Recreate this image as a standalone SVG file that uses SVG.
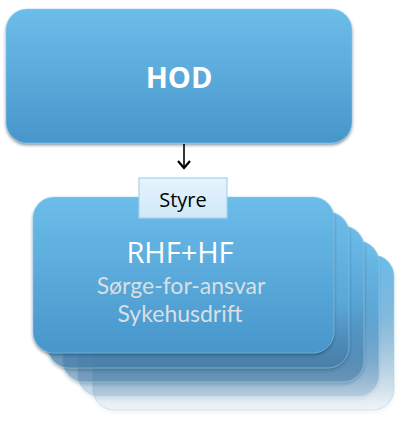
<svg xmlns="http://www.w3.org/2000/svg" width="400" height="424" viewBox="0 0 400 424">
<defs>
<style>
.box{stroke:#8fd0f3;stroke-width:0.8;stroke-opacity:0.6}
.lbl{font-family:"Open Sans","Liberation Sans",sans-serif;text-anchor:middle}
.sub{font-family:Lato,"Open Sans",sans-serif;text-anchor:middle;font-size:23px;fill:#d9dfe4}
</style>
<linearGradient id="gBlue" x1="0" y1="0" x2="0" y2="1">
<stop offset="0" stop-color="#6cbdea"/>
<stop offset="1" stop-color="#4896cb"/>
</linearGradient>
<linearGradient id="gB2" x1="0" y1="0" x2="0" y2="1">
<stop offset="0" stop-color="#6cbdea"/>
<stop offset="0.6" stop-color="#5aa6d6"/>
<stop offset="1" stop-color="#4a82b0" stop-opacity="0.6"/>
</linearGradient>
<linearGradient id="gB3" x1="0" y1="0" x2="0" y2="1">
<stop offset="0" stop-color="#6cbdea"/>
<stop offset="0.5" stop-color="#5aa6d6" stop-opacity="0.9"/>
<stop offset="1" stop-color="#4a82b0" stop-opacity="0.4"/>
</linearGradient>
<linearGradient id="gB4" x1="0" y1="0" x2="0" y2="1">
<stop offset="0" stop-color="#6cbdea"/>
<stop offset="0.45" stop-color="#5aa6d6" stop-opacity="0.8"/>
<stop offset="1" stop-color="#4a82b0" stop-opacity="0.22"/>
</linearGradient>
<linearGradient id="gB5" x1="0" y1="0" x2="0" y2="1">
<stop offset="0" stop-color="#6cbdea"/>
<stop offset="0.4" stop-color="#5aa6d6" stop-opacity="0.7"/>
<stop offset="1" stop-color="#4a82b0" stop-opacity="0.06"/>
</linearGradient>
<linearGradient id="gStyre" x1="0" y1="0" x2="0" y2="1">
<stop offset="0" stop-color="#e6f4fd"/>
<stop offset="1" stop-color="#cfe8f8"/>
</linearGradient>
<filter id="sh" x="-10%" y="-10%" width="125%" height="130%">
<feDropShadow dx="0" dy="2" stdDeviation="1.6" flood-color="#1d3c55" flood-opacity="0.55"/>
</filter>
<filter id="shl" x="-10%" y="-10%" width="125%" height="130%">
<feDropShadow dx="0" dy="2" stdDeviation="1.6" flood-color="#1d3c55" flood-opacity="0.2"/>
</filter>
<marker id="arr" viewBox="0 0 12 14" refX="10" refY="7" markerWidth="12" markerHeight="14" markerUnits="userSpaceOnUse" orient="auto">
<path d="M3,1 L10,7 L3,13" fill="none" stroke="#000" stroke-width="2.2"/>
</marker>
</defs>
<rect width="400" height="424" fill="#fff"/>

<g id="hod">
<rect class="box" x="6" y="9" width="346" height="134" rx="21" fill="url(#gBlue)" filter="url(#sh)"/>
<text class="lbl" x="179" y="88" font-size="29" font-weight="bold" fill="#fff">HOD</text>
</g>

<g id="connectors">
<line x1="184" y1="144" x2="184" y2="168" stroke="#000" stroke-width="1.6" marker-end="url(#arr)"/>
</g>

<g id="rhf-stack">
<g id="stack5"><rect class="box" x="93" y="255" width="301" height="155" rx="21" fill="url(#gB5)" filter="url(#shl)"/></g>
<g id="stack4"><rect class="box" x="78" y="241" width="301" height="155" rx="21" fill="url(#gB4)" filter="url(#shl)"/></g>
<g id="stack3"><rect class="box" x="63" y="226" width="301" height="156" rx="21" fill="url(#gB3)" filter="url(#sh)"/></g>
<g id="stack2"><rect class="box" x="48" y="212" width="301" height="156" rx="21" fill="url(#gB2)" filter="url(#sh)"/></g>
<g id="rhf">
<rect class="box" x="33" y="197" width="301" height="156" rx="21" fill="url(#gBlue)" filter="url(#sh)"/>
<text class="lbl" x="180" y="263" font-size="29" font-weight="500" fill="#fff">RHF+HF</text>
<text class="sub" x="181" y="294">Sørge-for-ansvar</text>
<text class="sub" x="180" y="322">Sykehusdrift</text>
</g>
</g>

<g id="styre">
<rect x="139" y="178" width="88" height="40" fill="url(#gStyre)" stroke="#a7d3ef" stroke-width="1.2"/>
<text class="lbl" x="183" y="207" font-size="20" fill="#000">Styre</text>
</g>
</svg>
